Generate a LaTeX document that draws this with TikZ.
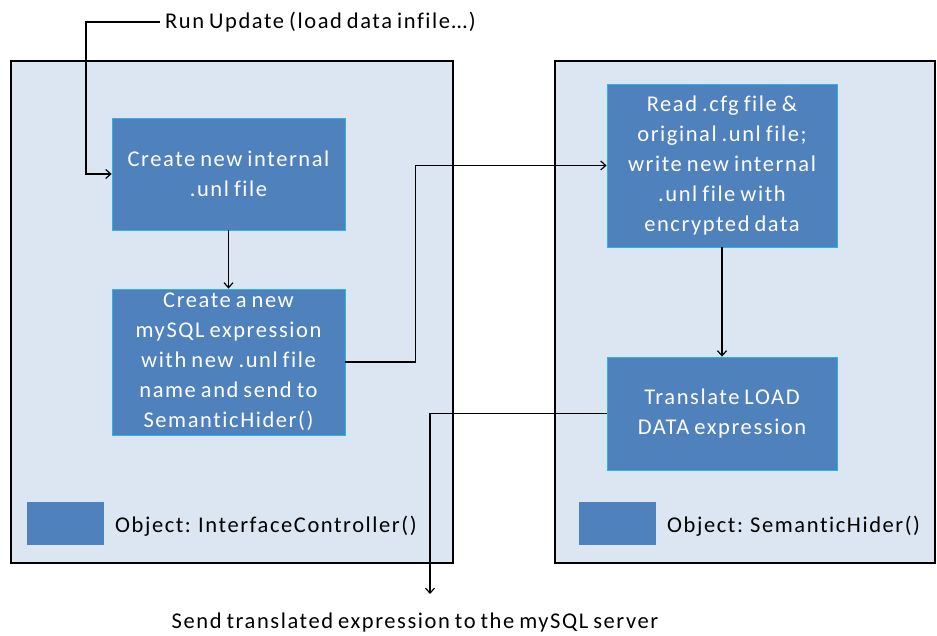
\documentclass[tikz,border=0pt]{standalone}
\usepackage{fontspec}
\setmainfont{Carlito}[LetterSpace=7,WordSpace=0.75,Ligatures={NoCommon}]
\usetikzlibrary{arrows.meta}

\definecolor{objfill}{RGB}{220,230,242}
\definecolor{stepfill}{RGB}{79,129,189}
\definecolor{stepline}{RGB}{40,180,235}

\tikzset{
    objbox/.style={draw=black,line width=1.4pt,fill=objfill,rectangle,inner sep=0pt},
    stepbox/.style={draw=stepline,line width=0.8pt,fill=stepfill,text=white,rectangle,
        align=center,inner sep=2pt,font=\fontsize{22.5}{30}\selectfont},
    keybox/.style={fill=stepfill,rectangle,minimum width=77pt,minimum height=43pt,inner sep=0pt},
    label/.style={font=\fontsize{22.5}{30}\selectfont,inner sep=0pt},
    flow/.style={draw=black,line width=1.2pt,-{Straight Barb[length=5pt,width=9pt]}}
}

\begin{document}
\begin{tikzpicture}[x=1pt,y=-1pt]
            \useasboundingbox (0,0) rectangle (937,636);

            % the two objects
            \node [objbox,minimum width=442pt,minimum height=502pt] (ctrl) at (232,312) {};
            \node [objbox,minimum width=380pt,minimum height=502pt] (hider) at (745,312) {};

            % InterfaceController() steps
            \node [stepbox,minimum width=233pt,minimum height=112pt] (create) at (228.5,174) {Create new internal\\.unl file};
            \node [stepbox,minimum width=233pt,minimum height=146pt] (expr) at (228.5,362) {Create a new\\mySQL expression\\with new .unl file\\name and send to\\SemanticHider()};

            % SemanticHider() steps
            \node [stepbox,minimum width=230pt,minimum height=163pt] (readcfg) at (722,165.5) {Read .cfg file \&\\original .unl file;\\write new internal\\.unl file with\\encrypted data};
            \node [stepbox,minimum width=230pt,minimum height=113pt] (translate) at (722,413.5) {Translate LOAD\\DATA expression};

            % legends
            \node [keybox] (ctrlkey) at (65.5,523.5) {};
            \node [label,anchor=base west] (ctrlname) at (115,532) {Object: InterfaceController()};
            \node [keybox] (hiderkey) at (617.5,523.5) {};
            \node [label,anchor=base west] (hidername) at (667,532) {Object: SemanticHider()};

            % start and end
            \node [label,anchor=base west,inner xsep=5pt] (run) at (160,29) {Run Update (load data infile…)};
            \node [label,anchor=base] (send) at (415,628) {Send translated expression to the mySQL server};
            \coordinate (runbend) at (86,22);
            \coordinate (sendend) at (430,594);

            \draw [flow] (run.west |- runbend) -- (runbend) |- (create.west);
            \draw [flow] (create) -- (expr);
            \draw [flow] (expr.east) -- ++(70,0) |- (readcfg.west);
            \draw [flow] (readcfg) -- (translate);
            \draw [flow] (translate.west) -| (sendend);
        \end{tikzpicture}
\end{document}
